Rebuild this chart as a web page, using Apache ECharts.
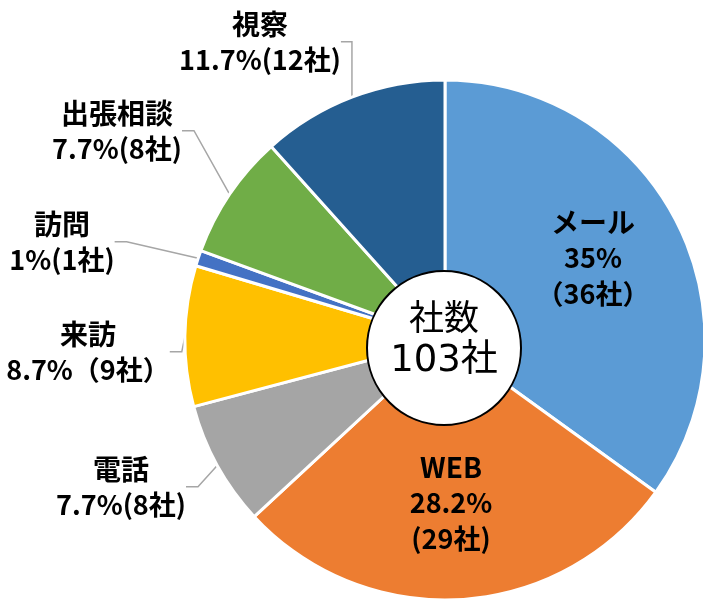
<!DOCTYPE html>
<html>
<head>
<meta charset="utf-8">
<script src="https://cdn.jsdelivr.net/npm/echarts@6/dist/echarts.min.js"></script>
<style>
html, body { margin: 0; padding: 0; background: #fff; }
#canvas { width: 703px; height: 600px; }
</style>
</head>
<body>
<div id="canvas"></div>
<script>
// データ
var categories = ['メール', 'WEB', '電話', '来訪', '訪問', '出張相談', '視察'];
var counts = [36, 29, 8, 9, 1, 8, 12];
var pctTexts = ['35%', '28.2%', '7.7%', '8.7%', '1%', '7.7%', '11.7%'];
var countTexts = ['（36社）', '(29社)', '(8社)', '（9社）', '(1社)', '(8社)', '(12社)'];
var insideItems = ['メール', 'WEB'];

var colors = ['#5B9BD5', '#ED7D31', '#A5A5A5', '#FFC000', '#4472C4', '#70AD47', '#255E91'];

// ラベル位置（ブロック中心）
var labelPos = {
    'メール': [593, 258],
    'WEB': [451, 503],
    '電話': [121, 487],
    '来訪': [88, 352],
    '訪問': [62, 242],
    '出張相談': [117, 131],
    '視察': [260, 42]
};

var total = counts.reduce(function (a, b) { return a + b; }, 0);

var font = '"Noto Sans CJK JP", "Noto Sans", sans-serif';

var pieData = categories.map(function (name, i) {
    var inside = insideItems.indexOf(name) >= 0;
    return {
        name: name,
        value: counts[i],
        label: {
            position: inside ? 'inside' : 'outside',
            formatter: inside
                ? '{n|' + name + '}\n{v|' + pctTexts[i] + '}\n{v|' + countTexts[i] + '}'
                : '{n|' + name + '}\n{v|' + pctTexts[i] + countTexts[i] + '}'
        },
        labelLine: { show: !inside }
    };
});

var myChart = echarts.init(document.getElementById('canvas'));
var option = {
    color: colors,
    animation: false,
    series: [{
        type: 'pie',
        center: [445, 340],
        radius: [0, 260],
        startAngle: 90,
        clockwise: true,
        avoidLabelOverlap: false,
        itemStyle: {
            borderColor: '#fff',
            borderWidth: 3
        },
        label: {
            show: true,
            color: '#000',
            fontFamily: font,
            fontWeight: 'bold',
            rich: {
                n: { fontSize: 28, fontWeight: 'bold', fontFamily: font, color: '#000', lineHeight: 36 },
                v: { fontSize: 27, fontWeight: 'bold', fontFamily: font, color: '#000', lineHeight: 36 }
            }
        },
        labelLine: {
            length: 15,
            length2: 12,
            lineStyle: { color: '#A6A6A6', width: 1.5 }
        },
        labelLayout: function (params) {
            var p = labelPos[categories[params.dataIndex]];
            return { x: p[0], y: p[1], align: 'center', verticalAlign: 'middle' };
        },
        data: pieData
    }],
    graphic: [{
        type: 'circle',
        z: 100,
        shape: { cx: 444, cy: 348, r: 77 },
        style: { fill: '#fff', stroke: '#000', lineWidth: 2 }
    }, {
        type: 'text',
        z: 101,
        x: 444, y: 317,
        style: { text: '社数', font: '35px ' + font, fill: '#000', align: 'center', verticalAlign: 'middle' }
    }, {
        type: 'text',
        z: 101,
        x: 444, y: 361,
        style: { text: total + '社', font: '37px "DejaVu Sans", ' + font, fill: '#000', align: 'center', verticalAlign: 'middle' }
    }]
};
myChart.setOption(option);
</script>
</body>
</html>
